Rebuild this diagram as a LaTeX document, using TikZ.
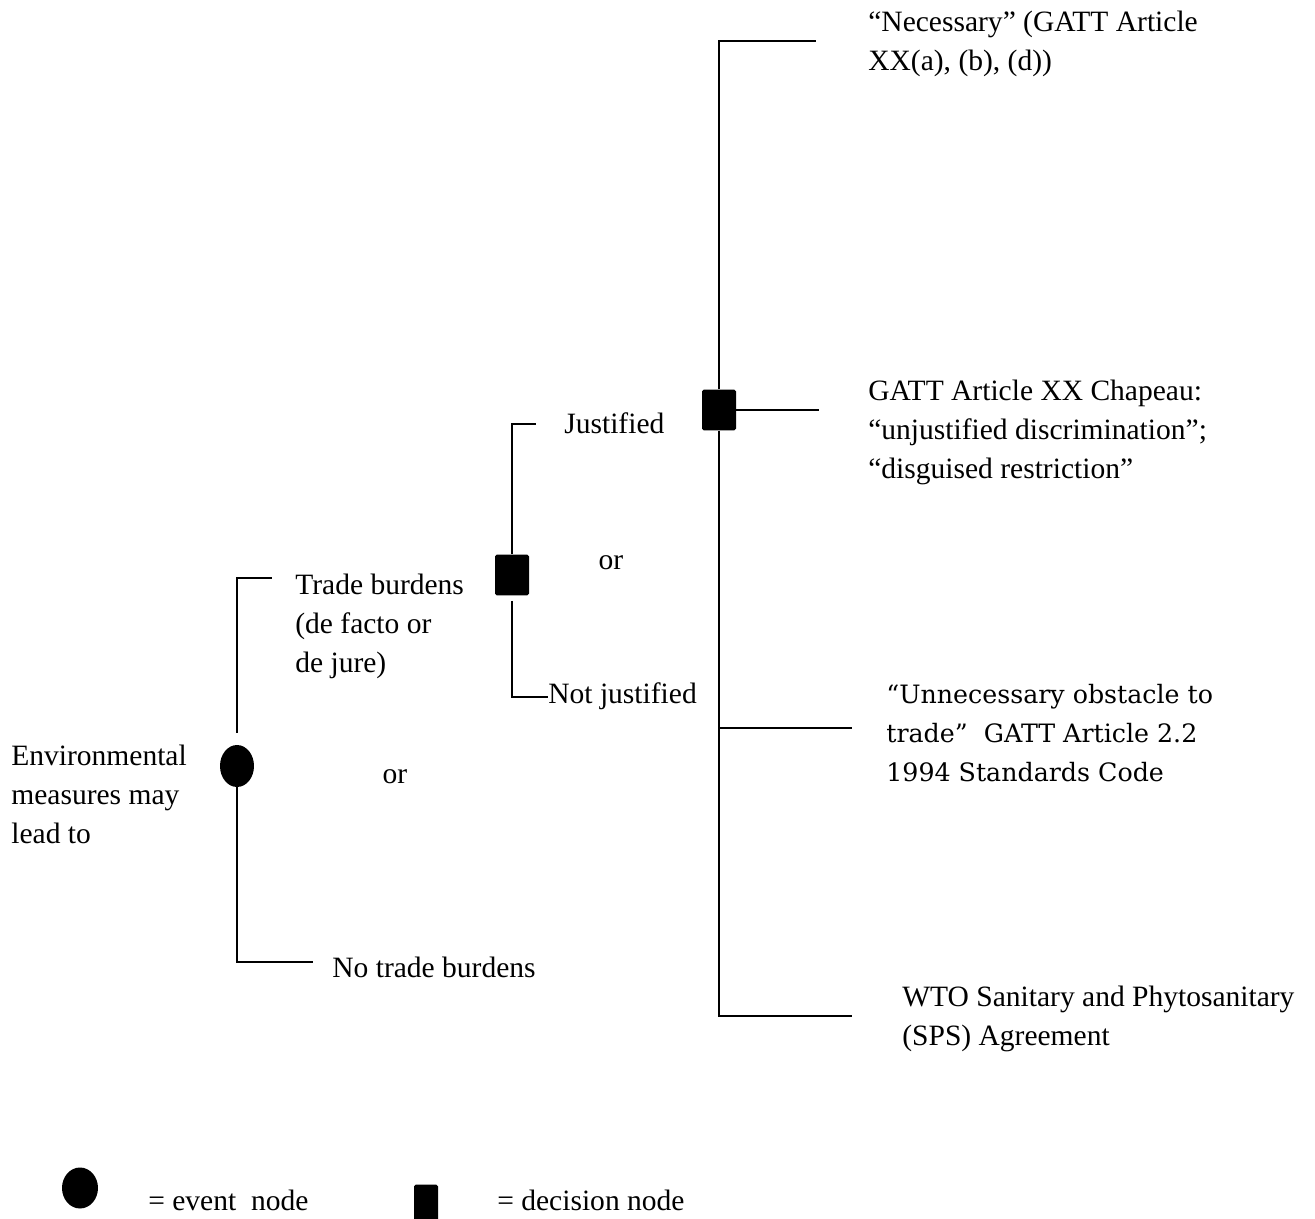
\documentclass[tikz,border=0pt]{standalone}
\usepackage{fontspec}
\setmainfont{Liberation Serif}
\newfontfamily\schoolfont{DejaVu Serif}
\usetikzlibrary{shapes.geometric}
\newcommand{\labelsize}{\fontsize{16.8}{22.2}\selectfont}
\newcommand{\schoolsize}{\fontsize{14.4}{22.0}\selectfont}
\tikzset{
  eventnode/.style={ellipse, fill=black, minimum width=0.68cm, minimum height=0.84cm, inner sep=0pt},
  decisionnode/.style={rectangle, rounded corners=1pt, fill=black, minimum width=0.68cm, minimum height=0.82cm, inner sep=0pt},
  labelnode/.style={anchor=west, align=left, inner sep=0pt, font=\labelsize},
  schoolnode/.style={labelnode, font=\schoolsize\schoolfont},
  ornode/.style={inner sep=0pt, font=\labelsize},
  branchedge/.style={draw=black, line width=0.75pt},
}

\begin{document}
\begin{tikzpicture}[x=0.02cm, y=-0.02cm]
  \clip (0,0) rectangle (1315,1219);
  % event and decision points
  \node[eventnode] (ev) at (237,766) {};
  \node[decisionnode] (dj) at (512,575) {};
  \node[decisionnode] (dl) at (719,410) {};
  % branch labels
  \node[labelnode] (env) at (11,794) {Environmental\\measures may\\lead to};
  \node[labelnode] (tb) at (295,626) {Trade burdens\\(de facto or\\de jure)};
  \node[labelnode] (ntb) at (332,967) {No trade burdens};
  \node[ornode] (or1) at (395,777) {or};
  \node[labelnode] (just) at (564,423) {Justified};
  \node[labelnode] (njust) at (548,696) {Not justified};
  \node[ornode] (or2) at (611,563) {or};
  \node[labelnode] (nec) at (868,44) {``Necessary'' (GATT Article\\XX(a), (b), (d))};
  \node[labelnode] (chap) at (868,432) {GATT Article XX Chapeau:\\``unjustified discrimination'';\\``disguised restriction''};
  \node[schoolnode] (unnec) at (886,733) {“Unnecessary obstacle to\\trade”\ \ GATT Article 2.2\\1994 Standards Code};
  \node[labelnode] (wto) at (902,1019) {WTO Sanitary and Phytosanitary\\(SPS) Agreement};
  % branch ends
  \coordinate (tbend) at (272,578);
  \coordinate (ntbend) at (313,962);
  \coordinate (jend) at (536,424);
  \coordinate (njend) at (548,697);
  \coordinate (necend) at (816,41);
  \coordinate (chapend) at (819,410);
  \coordinate (unend) at (852,728);
  \coordinate (wtoend) at (852,1016);
  \draw[branchedge, shorten <=0.24cm] (ev.north) |- (tbend);
  \draw[branchedge] (ev.south) |- (ntbend);
  \draw[branchedge] (dj.north) |- (jend);
  \draw[branchedge, shorten <=0.1cm] (dj.south) |- (njend);
  \draw[branchedge] (dl.north) |- (necend);
  \draw[branchedge] (dl.east) -- (chapend);
  \draw[branchedge] (dl.south) |- (unend);
  \draw[branchedge] (dl.south) |- (wtoend);
  % legend
  \node[eventnode, minimum width=0.72cm, minimum height=0.82cm] (legev) at (80,1188) {};
  \node[labelnode] (legevtext) at (148,1200) {= event\ \ node};
  \node[decisionnode, minimum width=0.48cm] (legdec) at (426,1205) {};
  \node[labelnode] (legdectext) at (497,1200) {= decision node};
\end{tikzpicture}
\end{document}
